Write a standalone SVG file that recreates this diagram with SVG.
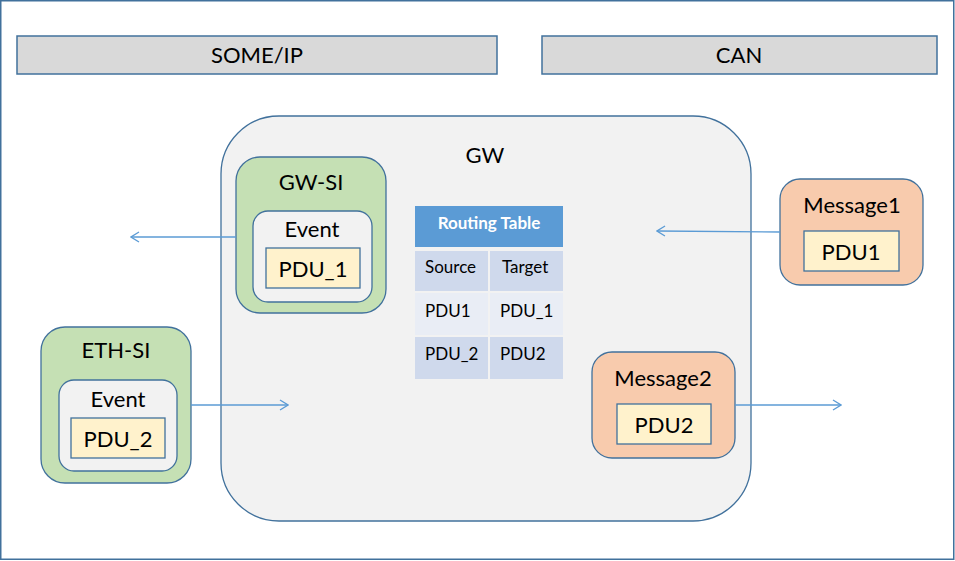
<svg xmlns="http://www.w3.org/2000/svg" width="955" height="561" viewBox="0 0 955 561">
<style>
text{font-family:Lato,"Liberation Sans",sans-serif;fill:#000;text-anchor:middle}
.lbl{font-size:22px}
.tb{font-size:17px;text-anchor:start}
.bar{fill:#D9D9D9;stroke:#41719C;stroke-width:1.5}
.si{fill:#C5E0B4;stroke:#41719C;stroke-width:1.3}
.msg{fill:#F8CBAD;stroke:#41719C;stroke-width:1.3}
.ev{fill:#F2F2F2;stroke:#41719C;stroke-width:1.3}
.pdu{fill:#FFF2CC;stroke:#41719C;stroke-width:1.3}
.conn{stroke:#5B9BD5;stroke-width:1.3;fill:none;marker-end:url(#arr)}
</style>
<defs>
<marker id="arr" viewBox="0 0 10 12" refX="9" refY="6" markerWidth="10" markerHeight="12" markerUnits="userSpaceOnUse" orient="auto">
<path d="M1,1 L9,6 L1,11" fill="none" stroke="#5B9BD5" stroke-width="1.3"/>
</marker>
</defs>
<rect x="0.75" y="0.75" width="953" height="558.5" fill="#FFFFFF" stroke="#41719C" stroke-width="1.5"/>
<g id="someip-bar"><rect class="bar" x="17" y="36" width="480" height="38"/><text class="lbl" x="257" y="63">SOME/IP</text></g>
<g id="can-bar"><rect class="bar" x="542" y="36" width="395" height="38"/><text class="lbl" x="739" y="63">CAN</text></g>
<g id="gw"><rect x="221" y="116" width="530" height="405" rx="58" ry="58" fill="#F2F2F2" stroke="#41719C" stroke-width="1.3"/><text class="lbl" x="485" y="163">GW</text></g>
<g id="routing-table">
<rect x="415" y="206" width="148" height="41" fill="#5B9BD5"/>
<text x="489" y="229" style="font-size:17px;font-weight:bold;fill:#FFFFFF">Routing Table</text>
<rect x="415" y="251" width="73" height="40" fill="#CFD9EC"/><rect x="490" y="251" width="73" height="40" fill="#CFD9EC"/>
<rect x="415" y="293" width="73" height="42" fill="#E9EDF5"/><rect x="490" y="293" width="73" height="42" fill="#E9EDF5"/>
<rect x="415" y="337" width="73" height="42" fill="#CFD9EC"/><rect x="490" y="337" width="73" height="42" fill="#CFD9EC"/>
<text class="tb" x="425" y="273">Source</text><text class="tb" x="502" y="273">Target</text>
<text class="tb" x="425" y="317">PDU1</text><text class="tb" x="500" y="317">PDU_1</text>
<text class="tb" x="425" y="360">PDU_2</text><text class="tb" x="500" y="360">PDU2</text>
</g>
<g id="gw-si">
<rect class="si" x="236" y="157" width="150" height="156" rx="24"/><text class="lbl" x="311" y="190">GW-SI</text>
<rect class="ev" x="253" y="211" width="119" height="91" rx="15"/><text class="lbl" x="312" y="237">Event</text>
<rect class="pdu" x="266" y="248" width="94" height="40"/><text class="lbl" x="313" y="277">PDU_1</text>
</g>
<g id="eth-si">
<rect class="si" x="41" y="327" width="150" height="156" rx="24"/><text class="lbl" x="116" y="358">ETH-SI</text>
<rect class="ev" x="59" y="380" width="118" height="91" rx="15"/><text class="lbl" x="118" y="407">Event</text>
<rect class="pdu" x="71" y="418" width="94" height="40"/><text class="lbl" x="118" y="447">PDU_2</text>
</g>
<g id="message1">
<rect class="msg" x="780" y="179" width="143" height="106" rx="20"/><text class="lbl" x="852" y="213">Message1</text>
<rect class="pdu" x="804" y="231" width="95" height="40"/><text class="lbl" x="851" y="260">PDU1</text>
</g>
<g id="message2">
<rect class="msg" x="592" y="352" width="143" height="106" rx="20"/><text class="lbl" x="663" y="386">Message2</text>
<rect class="pdu" x="617" y="404" width="94" height="40"/><text class="lbl" x="664" y="433">PDU2</text>
</g>
<g id="connectors">
<line class="conn" x1="236" y1="237" x2="131" y2="237"/>
<line class="conn" x1="191" y1="405" x2="288" y2="405"/>
<line class="conn" x1="780" y1="232" x2="657" y2="231"/>
<line class="conn" x1="735" y1="405" x2="841" y2="405"/>
</g>
</svg>
